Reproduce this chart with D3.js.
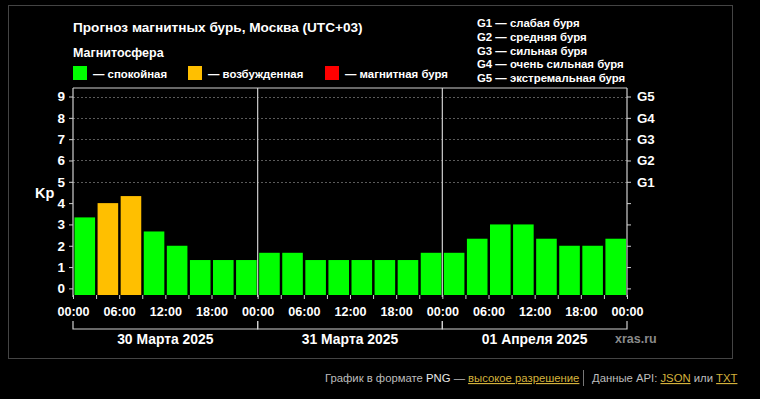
<!DOCTYPE html>
<html><head><meta charset="utf-8">
<script src="https://cdn.jsdelivr.net/npm/d3@7/dist/d3.min.js"></script>
<style>
html,body{margin:0;padding:0;background:#000;}
svg{display:block;}
text{font-family:"Liberation Sans",Arial,sans-serif;}
</style></head>
<body>
<svg id="c" width="760" height="399"></svg>
<script>
const title = "Прогноз магнитных бурь, Москва (UTC+03)";
const days = ["30 Марта 2025", "31 Марта 2025", "01 Апреля 2025"];
const hourLabels = ["00:00", "06:00", "12:00", "18:00"];
const kp = [3.33, 4.0, 4.33, 2.67, 2.0, 1.33, 1.33, 1.33,
            1.67, 1.67, 1.33, 1.33, 1.33, 1.33, 1.33, 1.67,
            1.67, 2.33, 3.0, 3.0, 2.33, 2.0, 2.0, 2.33];
const levels = ["спокойная", "возбужденная", "магнитная буря"];
const levelColors = ["#00ff00", "#ffbf00", "#ff0000"];
const gLabels = ["G1", "G2", "G3", "G4", "G5"];
const gNames = ["слабая буря", "средняя буря", "сильная буря", "очень сильная буря", "экстремальная буря"];
const yTicks = [0,1,2,3,4,5,6,7,8,9];

const svg = d3.select("#c");
const L = 73, R = 627, T = 88, B = 295;
const x = d3.scaleLinear().domain([0, 72]).range([L, R]);
const y = d3.scaleLinear().domain([-0.31, 9.4]).range([B, T]);
const axisCol = "#cfcfcf";

// outer frame
svg.append("rect").attr("x", 8.5).attr("y", 5.5).attr("width", 724).attr("height", 353)
  .attr("fill", "#000").attr("stroke", "#444");

// title + legend
svg.append("text").attr("x", 73).attr("y", 32).attr("fill", "#fff")
  .attr("font-size", 13.6).attr("font-weight", "bold").text(title);
svg.append("text").attr("x", 73).attr("y", 57).attr("fill", "#fff")
  .attr("font-size", 12.5).attr("font-weight", "bold").text("Магнитосфера");
const legX = [73, 188, 325];
levels.forEach((l, i) => {
  svg.append("rect").attr("x", legX[i]).attr("y", 66).attr("width", 14).attr("height", 14)
    .attr("fill", levelColors[i]);
  svg.append("text").attr("x", legX[i] + 20).attr("y", 78).attr("fill", "#fff")
    .attr("font-size", 11.4).attr("font-weight", "bold").text("— " + l);
});
gLabels.forEach((g, i) => {
  svg.append("text").attr("x", 477).attr("y", 27 + i * 13.8).attr("fill", "#fff")
    .attr("font-size", 11.4).attr("font-weight", "bold").text(g + " — " + gNames[i]);
});

// grid (storm levels)
svg.append("g").selectAll("line").data([5,6,7,8,9]).join("line")
  .attr("x1", L).attr("x2", R).attr("y1", d => Math.round(y(d)) + 0.5).attr("y2", d => Math.round(y(d)) + 0.5)
  .attr("stroke", "#5a5a5a").attr("stroke-dasharray", "2,2");

// bars
svg.append("g").selectAll("rect").data(kp).join("rect")
  .attr("x", (d, i) => x(i * 3) + 1.5)
  .attr("width", (d, i) => x((i + 1) * 3) - x(i * 3) - 2.5)
  .attr("y", d => y(d))
  .attr("height", d => B - y(d))
  .attr("fill", d => d >= 5 ? levelColors[2] : (d >= 4 ? levelColors[1] : levelColors[0]));

// frame lines
const fr = svg.append("g").attr("stroke", axisCol).attr("stroke-width", 1.2);
fr.append("line").attr("x1", L).attr("x2", R).attr("y1", T).attr("y2", T);
[0, 24, 48, 72].forEach(h => {
  fr.append("line").attr("x1", x(h)).attr("x2", x(h)).attr("y1", T).attr("y2", B + 2);
});

// left axis
const yl = svg.append("g").attr("transform", `translate(${L},0)`)
  .call(d3.axisLeft(y).tickValues(yTicks).tickSize(4).tickPadding(4).tickFormat(d3.format("d")));
yl.select(".domain").remove();
yl.selectAll("line").attr("stroke", axisCol);
yl.selectAll("text").attr("fill", "#fff").attr("font-size", 13.5).attr("font-weight", "bold")
  .attr("font-family", "Liberation Sans, Arial, sans-serif");
svg.append("text").attr("x", 35).attr("y", 198).attr("fill", "#fff").attr("font-size", 14.5)
  .attr("font-weight", "bold").text("Kp");

// right axis
const yr = svg.append("g").attr("transform", `translate(${R},0)`)
  .call(d3.axisRight(y).tickValues(yTicks).tickSize(4).tickPadding(6)
    .tickFormat(d => d >= 5 ? gLabels[d - 5] : ""));
yr.select(".domain").remove();
yr.selectAll("line").attr("stroke", axisCol);
yr.selectAll("text").attr("fill", "#fff").attr("font-size", 13.3).attr("font-weight", "bold")
  .attr("font-family", "Liberation Sans, Arial, sans-serif");

// x axis
const hourTicks = d3.range(0, 73, 3);
const xa = svg.append("g").attr("transform", `translate(0,${B})`)
  .call(d3.axisBottom(x).tickValues(hourTicks).tickSize(4).tickPadding(8)
    .tickFormat(h => h % 6 === 0 ? hourLabels[(h % 24) / 6] : ""));
xa.select(".domain").remove();
xa.selectAll("line").attr("stroke", axisCol);
xa.selectAll("text").attr("fill", "#fff").attr("font-size", 12.6).attr("font-weight", "bold")
  .attr("font-family", "Liberation Sans, Arial, sans-serif");

// day brackets
const br = svg.append("g").attr("stroke", axisCol).attr("stroke-width", 1.2).attr("fill", "none");
days.forEach((d, i) => {
  const a = x(i * 24), b = x((i + 1) * 24);
  br.append("path").attr("d", `M${a},321V329H${b}V321`);
  svg.append("text").attr("x", (a + b) / 2).attr("y", 344).attr("text-anchor", "middle")
    .attr("fill", "#fff").attr("font-size", 13.9).attr("font-weight", "bold").text(d);
});
svg.append("text").attr("x", 615).attr("y", 343).attr("fill", "#8a8a8a").attr("font-size", 12.5)
  .attr("font-weight", "bold").text("xras.ru");

// footer
const ft = svg.append("text").attr("x", 325).attr("y", 382).attr("font-size", 11.3).attr("fill", "#bdbdbd");
ft.append("tspan").text("График в формате ");
ft.append("tspan").attr("fill", "#e8e8e8").text("PNG");
ft.append("tspan").text(" — ");
ft.append("tspan").attr("fill", "#d4b23c").attr("text-decoration", "underline").text("высокое разрешение");
svg.append("line").attr("x1", 583.5).attr("x2", 583.5).attr("y1", 370).attr("y2", 386).attr("stroke", "#777");
const ft2 = svg.append("text").attr("x", 592).attr("y", 382).attr("font-size", 11.3).attr("fill", "#bdbdbd");
ft2.append("tspan").text("Данные API: ");
ft2.append("tspan").attr("fill", "#d4b23c").attr("text-decoration", "underline").text("JSON");
ft2.append("tspan").text(" или ");
ft2.append("tspan").attr("fill", "#d4b23c").attr("text-decoration", "underline").text("TXT");
</script>
</body></html>
